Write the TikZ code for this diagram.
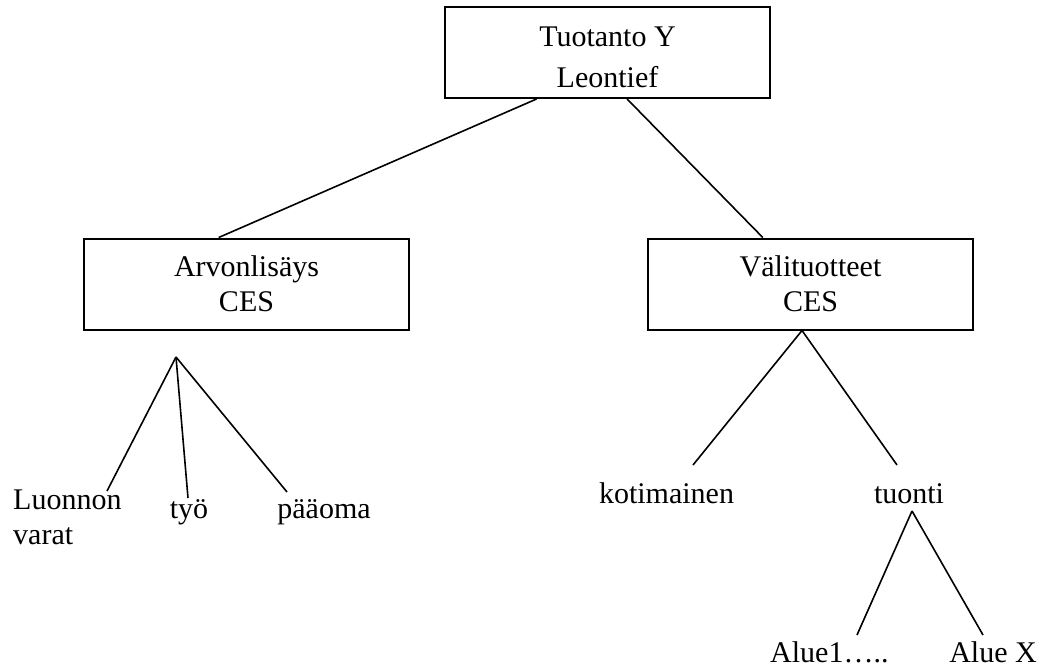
\documentclass[tikz,border=0pt]{standalone}
\usepackage{fontspec}
\setmainfont{Liberation Serif}
\usetikzlibrary{calc}
\tikzset{
  box/.style={draw, line width=2pt, minimum width=325pt, minimum height=91pt, align=center, inner sep=0pt},
  leaf/.style={inner sep=0pt},
  branch/.style={line width=1.6pt},
}
\begin{document}
\begin{tikzpicture}[x=1pt, y=-1pt, font=\fontsize{30}{35}\selectfont]
\useasboundingbox (0,0) rectangle (1038,666);
\node[box] (tuotanto) at (607.5,52.5){\rule{0pt}{30pt}Tuotanto Y\\[6pt]Leontief};
\node[box] (arvo) at (246.5,284){Arvonlisäys\\CES};
\node[box] (vali) at (810.5,284){Välituotteet\\CES};
\draw[branch]($(tuotanto.south west)!.283!(tuotanto.south east)$) -- ($(arvo.north west)!.415!(arvo.north east)$);
\draw[branch]($(tuotanto.south west)!.56!(tuotanto.south east)$) -- ($(vali.north west)!.354!(vali.north east)$);
\node[leaf, anchor=base west, align=left] (luonnon) at (13,544){Luonnon\\varat};
\node[leaf, anchor=base] (tyo) at (189,518){työ};
\node[leaf, anchor=base] (paaoma) at (324,518){pääoma};
\coordinate (arvo-k) at (176,357);
\coordinate (luonnon-k) at (107,491);
\coordinate (tyo-k) at (188,498);
\coordinate (paaoma-k) at (287,492);
\draw[branch](arvo-k) -- (luonnon-k);
\draw[branch](arvo-k) -- (tyo-k);
\draw[branch](arvo-k) -- (paaoma-k);
\node[leaf, anchor=base] (koti) at (666.5,503){kotimainen};
\node[leaf, anchor=base] (tuonti) at (909,503){tuonti};
\coordinate (koti-k) at (693,465);
\coordinate (tuonti-k) at (897,465);
\draw[branch]($(vali.south west)!.474!(vali.south east)$) -- (koti-k);
\draw[branch]($(vali.south west)!.474!(vali.south east)$) -- (tuonti-k);
\node[leaf, anchor=base west] (alue1) at (770,662){Alue1…..};
\node[leaf, anchor=base east] (aluex) at (1037,662){Alue X};
\coordinate (tuonti-a) at (912,511);
\coordinate (alue1-k) at (857,635);
\coordinate (aluex-k) at (983,635);
\draw[branch](tuonti-a) -- (alue1-k);
\draw[branch](tuonti-a) -- (aluex-k);
\end{tikzpicture}
\end{document}
